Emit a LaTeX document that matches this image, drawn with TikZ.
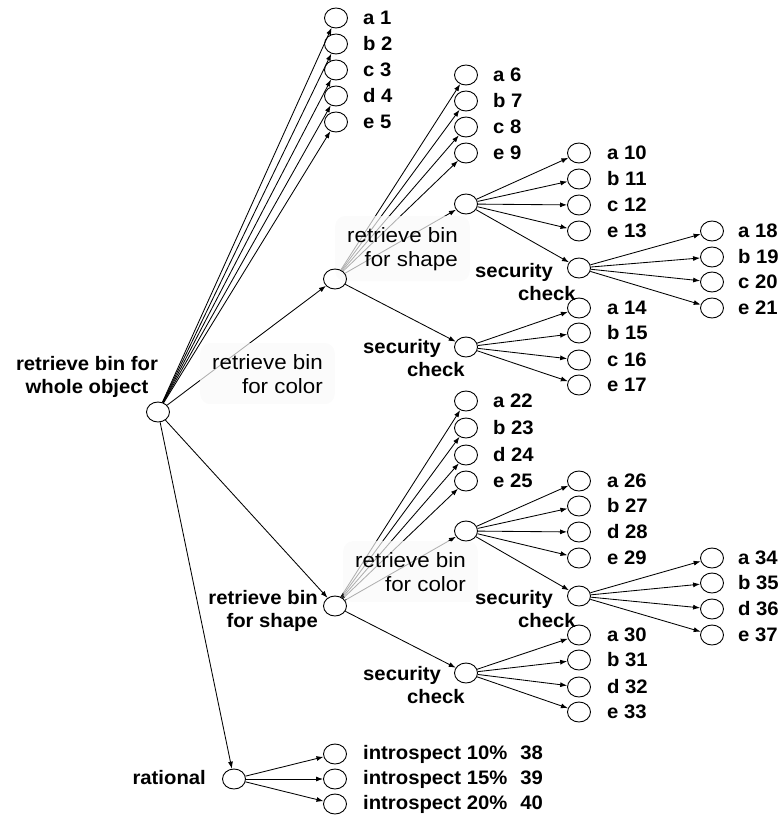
\documentclass[tikz,border=0pt]{standalone}
\usepackage{fontspec}
\setmainfont{Liberation Sans}
\newfontfamily\dgfont[FakeStretch=1.04]{Liberation Sans}
\newfontfamily\notefont[FakeStretch=1.08]{Liberation Sans}
\usetikzlibrary{arrows.meta,shapes.geometric}
\pgfdeclarelayer{edgelayer}
\pgfdeclarelayer{boxlayer}
\pgfsetlayers{edgelayer,boxlayer,main}
\begin{document}
\begin{tikzpicture}[x=1pt,y=-1pt,
  st/.style={draw, ellipse, minimum width=23pt, minimum height=20pt, inner sep=0pt, line width=0.9pt},
  edge/.style={-{Latex[length=7pt,width=5pt]}, line width=0.85pt},
  lbl/.style={inner sep=0pt, font=\dgfont\bfseries\fontsize{19.5}{23}\selectfont},
  leaf/.style={lbl, anchor=west},
  seclbl/.style={lbl, anchor=base west, align=left},
  note/.style={anchor=base east, align=right, inner xsep=12pt, inner ysep=11pt,
    rounded corners=10pt, fill=black!2, fill opacity=0.7, text opacity=1,
    font=\notefont\fontsize{20.7}{24}\selectfont},
]
\useasboundingbox (0,0) rectangle (783,818);

% decision nodes
\node[st] (R)    at (158,412) {};
\node[st] (C)    at (335,279) {};
\node[st] (CS)   at (466,204) {};
\node[st] (CSS)  at (579,268) {};
\node[st] (CSec) at (466,347) {};
\node[st] (S)    at (335,606) {};
\node[st] (SC)   at (466,531) {};
\node[st] (SCS)  at (579,596) {};
\node[st] (SSec) at (466,673) {};
\node[st] (Ra)   at (234,779) {};

% connectors between decision nodes
\begin{pgfonlayer}{edgelayer}
\draw[edge] (R) -- (C);
\draw[edge] (R) -- (S);
\draw[edge] (R) -- (Ra);
\draw[edge] (C) -- (CS);
\draw[edge] (C) -- (CSec);
\draw[edge] (CS) -- (CSS);
\draw[edge] (S) -- (SC);
\draw[edge] (S) -- (SSec);
\draw[edge] (SC) -- (SCS);
\end{pgfonlayer}

% leaves of each decision node, with their labels
\foreach \n/\y/\t in {1/18/a 1, 2/44/b 2, 3/70/c 3, 4/96/d 4, 5/122/e 5}{
  \node[st] (v\n) at (336,\y) {};
  \node[leaf] (w\n) at ([xshift=27pt]v\n.center) {\t};
  \begin{pgfonlayer}{edgelayer}\draw[edge] (R) -- (v\n);\end{pgfonlayer}
}
\foreach \n/\y/\t in {6/75/a 6, 7/101/b 7, 8/127/c 8, 9/153/e 9}{
  \node[st] (v\n) at (466,\y) {};
  \node[leaf] (w\n) at ([xshift=27pt]v\n.center) {\t};
  \begin{pgfonlayer}{edgelayer}\draw[edge] (C) -- (v\n);\end{pgfonlayer}
}
\foreach \n/\y/\t in {10/153/a 10, 11/179/b 11, 12/205/c 12, 13/231/e 13}{
  \node[st] (v\n) at (579,\y) {};
  \node[leaf] (w\n) at ([xshift=28pt]v\n.center) {\t};
  \begin{pgfonlayer}{edgelayer}\draw[edge] (CS) -- (v\n);\end{pgfonlayer}
}
\foreach \n/\y/\t in {18/231/a 18, 19/257/b 19, 20/282/c 20, 21/308/e 21}{
  \node[st] (v\n) at (712,\y) {};
  \node[leaf] (w\n) at ([xshift=26pt]v\n.center) {\t};
  \begin{pgfonlayer}{edgelayer}\draw[edge] (CSS) -- (v\n);\end{pgfonlayer}
}
\foreach \n/\y/\t in {14/308/a 14, 15/333/b 15, 16/360/c 16, 17/385/e 17}{
  \node[st] (v\n) at (579,\y) {};
  \node[leaf] (w\n) at ([xshift=28pt]v\n.center) {\t};
  \begin{pgfonlayer}{edgelayer}\draw[edge] (CSec) -- (v\n);\end{pgfonlayer}
}
\foreach \n/\y/\t in {22/401/a 22, 23/428/b 23, 24/455/d 24, 25/481/e 25}{
  \node[st] (v\n) at (466,\y) {};
  \node[leaf] (w\n) at ([xshift=27pt]v\n.center) {\t};
  \begin{pgfonlayer}{edgelayer}\draw[edge] (S) -- (v\n);\end{pgfonlayer}
}
\foreach \n/\y/\t in {26/481/a 26, 27/506/b 27, 28/532/d 28, 29/558/e 29}{
  \node[st] (v\n) at (579,\y) {};
  \node[leaf] (w\n) at ([xshift=28pt]v\n.center) {\t};
  \begin{pgfonlayer}{edgelayer}\draw[edge] (SC) -- (v\n);\end{pgfonlayer}
}
\foreach \n/\y/\t in {34/558/a 34, 35/583/b 35, 36/609/d 36, 37/635/e 37}{
  \node[st] (v\n) at (712,\y) {};
  \node[leaf] (w\n) at ([xshift=26pt]v\n.center) {\t};
  \begin{pgfonlayer}{edgelayer}\draw[edge] (SCS) -- (v\n);\end{pgfonlayer}
}
\foreach \n/\y/\t in {30/635/a 30, 31/660/b 31, 32/687/d 32, 33/712/e 33}{
  \node[st] (v\n) at (579,\y) {};
  \node[leaf] (w\n) at ([xshift=28pt]v\n.center) {\t};
  \begin{pgfonlayer}{edgelayer}\draw[edge] (SSec) -- (v\n);\end{pgfonlayer}
}
\foreach \n/\y/\p in {38/754/10, 39/779/15, 40/804/20}{
  \node[st] (v\n) at (335,\y) {};
  \node[leaf] (w\n) at ([xshift=28pt]v\n.center) {introspect \p\%\hspace{13pt}\n};
  \begin{pgfonlayer}{edgelayer}\draw[edge] (Ra) -- (v\n);\end{pgfonlayer}
}

% labels of the decision nodes (base anchor = baseline of the last line)
\node[lbl, anchor=base, align=center] (tR) at (87,393) {retrieve bin for\\whole object};
\node[lbl, anchor=base east, align=right] (tS) at (318,627) {retrieve bin\\for shape};
\node[lbl, anchor=base east] (tRa) at (206,784) {rational};
\node[seclbl] (tCSS)  at (475,300) {security\\\hspace*{43pt}check};
\node[seclbl] (tCSec) at (363,376) {security\\\hspace*{44pt}check};
\node[seclbl] (tSCS)  at (475,627) {security\\\hspace*{43pt}check};
\node[seclbl] (tSSec) at (363,703) {security\\\hspace*{44pt}check};

\begin{pgfonlayer}{boxlayer}
\node[note] (tC)  at (335,393) {retrieve bin\\for color};
\node[note] (tCS) at (470,266) {retrieve bin\\for shape};
\node[note] (tSC) at (478,591) {retrieve bin\\for color};
\end{pgfonlayer}
\end{tikzpicture}
\end{document}
